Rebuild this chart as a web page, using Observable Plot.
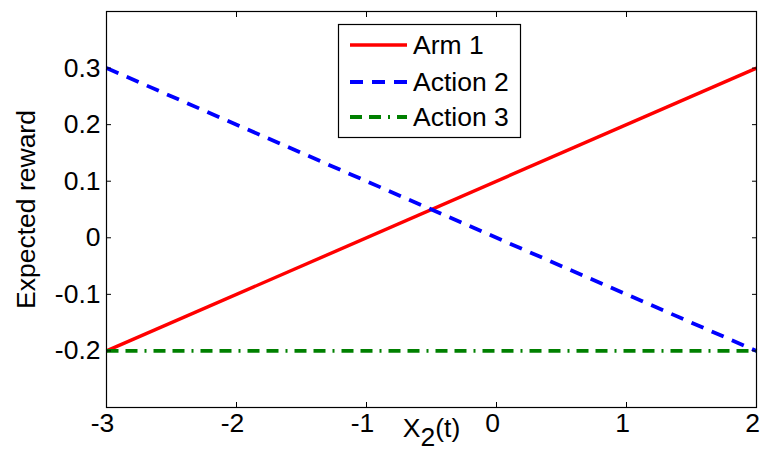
<!DOCTYPE html>
<html>
<head>
<meta charset="utf-8">
<script src="https://cdn.jsdelivr.net/npm/d3@7"></script>
<script src="https://cdn.jsdelivr.net/npm/@observablehq/plot@0.6"></script>
<style>
  body { margin: 0; background: #fff; }
  #chart { width: 764px; height: 461px; }
  #chart svg { font-family: "Liberation Sans", Arial, Helvetica, sans-serif; }
</style>
</head>
<body>
<div id="chart"></div>
<script>
// Expected reward of each arm as a function of X2(t)
const xEnds = [-3, 2];
const arm1 = [-0.2, 0.3];
const action2 = [0.3, -0.2];
const action3 = [-0.2, -0.2];
const seriesNames = ["Arm 1", "Action 2", "Action 3"];
const seriesColors = ["#ff0000", "#0000ff", "#008000"];
const seriesDash = [null, "13,9", "12,7,12,7,2,7"];
const seriesWidth = [3.4, 3.8, 3.8];

const xTicks = [-3, -2, -1, 0, 1, 2];
const xTickLabels = ["-3", "-2", "-1", "0", "1", "2"];
const yTicks = [-0.2, -0.1, 0, 0.1, 0.2, 0.3];
const yTickLabels = ["-0.2", "-0.1", "0", "0.1", "0.2", "0.3"];
const xLabel = "X2(t)";
const yLabel = "Expected reward";

const seriesValues = [arm1, action2, action3];
const rows = seriesValues.flatMap((vals, s) =>
  xEnds.map((x, i) => ({series: seriesNames[s], x, y: vals[i]}))
);

const fontSize = 26.5;

const lines = seriesNames.map((name, s) =>
  Plot.line(rows.filter(d => d.series === name), {
    x: "x", y: "y",
    stroke: seriesColors[s],
    strokeWidth: seriesWidth[s],
    strokeDasharray: seriesDash[s],
    strokeLinecap: "butt"
  })
);

const chart = Plot.plot({
  width: 764,
  height: 461,
  marginLeft: 106,
  marginRight: 8,
  marginTop: 11,
  marginBottom: 54,
  style: {fontSize: `${fontSize}px`, fontFamily: '"Liberation Sans", Arial, sans-serif', background: "white", color: "black"},
  x: {domain: [-3, 2]},
  y: {domain: [-0.3, 0.4]},
  marks: [
    ...lines,
    Plot.frame({stroke: "black", strokeWidth: 1.2}),
    Plot.axisX(xTicks, {anchor: "bottom", tickSize: 0, tickPadding: 6, dx: -4, label: null, fontSize,
      tickFormat: d => xTickLabels[xTicks.indexOf(d)]}),
    Plot.axisX(xTicks, {anchor: "bottom", tickSize: -5, label: null, tickFormat: () => ""}),
    Plot.axisX(xTicks, {anchor: "top", tickSize: -5, label: null, tickFormat: () => ""}),
    Plot.axisY(yTicks, {anchor: "left", tickSize: -5, tickPadding: 11, label: null, fontSize,
      tickFormat: d => yTickLabels[yTicks.indexOf(d)]}),
    Plot.axisY(yTicks, {anchor: "right", tickSize: -5, label: null, tickFormat: () => ""}),
    Plot.text([yLabel], {text: d => d, frameAnchor: "left", textAnchor: "middle", rotate: -90, dx: -80, fontSize}),
    Plot.text([xLabel], {text: d => d, frameAnchor: "bottom", textAnchor: "middle", dy: 29, fontSize, className: "xlabel"})
  ]
});

document.getElementById("chart").appendChild(chart);

// Subscript on the x-axis label
const svg = d3.select(chart);
svg.selectAll(".xlabel text").each(function () {
  const t = d3.select(this);
  t.text(null);
  t.append("tspan").text("X");
  t.append("tspan").attr("dy", "0.35em").text("2");
  t.append("tspan").attr("dy", "-0.35em").text("(t)");
});

// Legend box
const legend = svg.append("g")
  .attr("font-size", fontSize)
  .attr("text-anchor", "start");
legend.append("rect")
  .attr("x", 338.5).attr("y", 24.5).attr("width", 182).attr("height", 113)
  .attr("fill", "white").attr("stroke", "black").attr("stroke-width", 1.2);
const rowY = [45, 82, 117];
seriesNames.forEach((name, s) => {
  legend.append("line")
    .attr("x1", 350).attr("x2", 407).attr("y1", rowY[s]).attr("y2", rowY[s])
    .attr("stroke", seriesColors[s]).attr("stroke-width", seriesWidth[s])
    .attr("stroke-dasharray", seriesDash[s]);
  legend.append("text")
    .attr("x", 413).attr("y", rowY[s]).attr("dy", "0.35em")
    .attr("text-anchor", "start")
    .attr("fill", "black").text(name);
});
</script>
</body>
</html>
